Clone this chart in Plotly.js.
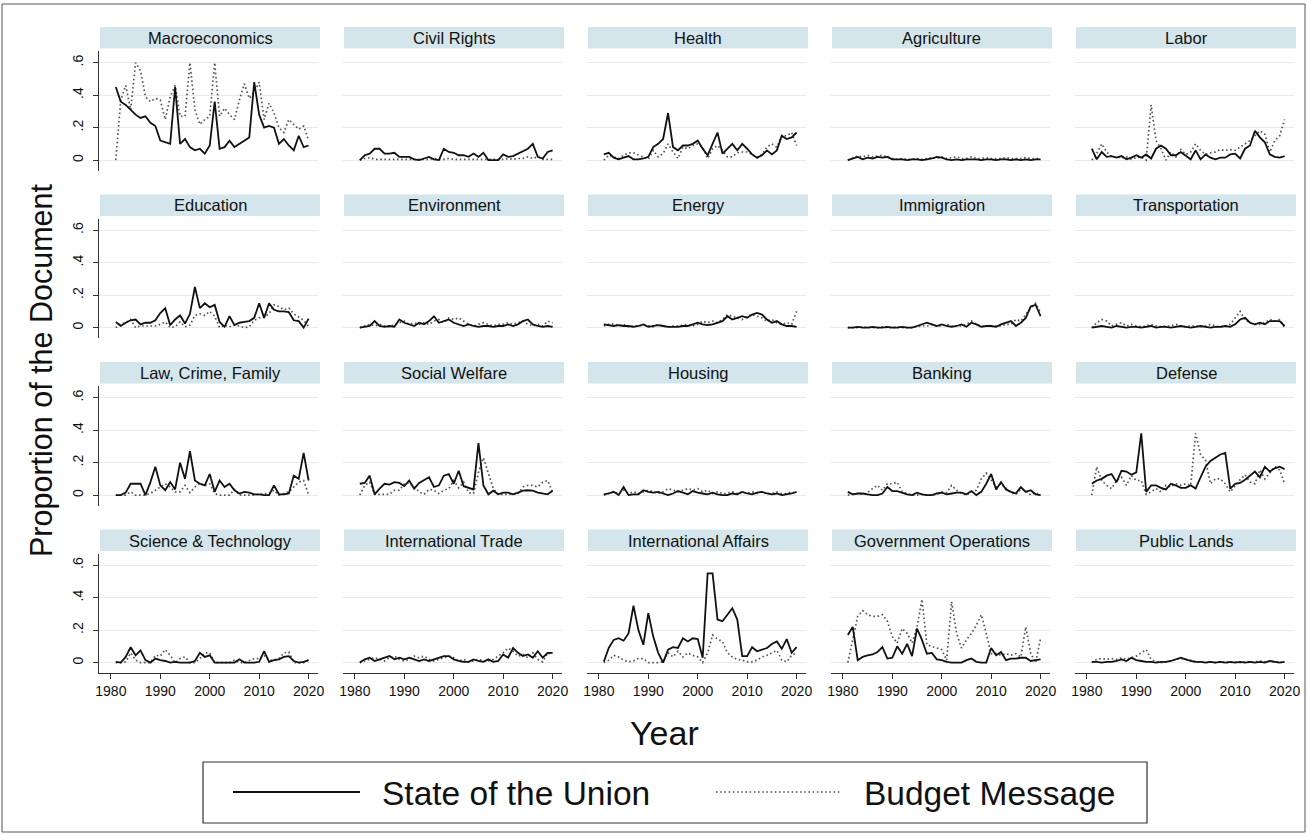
<!DOCTYPE html>
<html><head><meta charset="utf-8">
<script src="https://cdn.plot.ly/plotly-3.0.1.min.js"></script>
<style>html,body{margin:0;padding:0;background:#fff}#chart{width:1307px;height:835px}</style>
</head><body><div id="chart"></div>
<script>
const years = [1981,1982,1983,1984,1985,1986,1987,1988,1989,1990,1991,1992,1993,1994,1995,1996,1997,1998,1999,2000,2001,2002,2003,2004,2005,2006,2007,2008,2009,2010,2011,2012,2013,2014,2015,2016,2017,2018,2019,2020];
const topics = ["Macroeconomics","Civil Rights","Health","Agriculture","Labor","Education","Environment","Energy","Immigration","Transportation","Law, Crime, Family","Social Welfare","Housing","Banking","Defense","Science & Technology","International Trade","International Affairs","Government Operations","Public Lands"];
const xTicks = [1980,1990,2000,2010,2020];
const yTicks = [0,0.2,0.4,0.6];
const yTickText = ["0",".2",".4",".6"];

const macroSOU = [.45,.36,.34,.31,.28,.26,.27,.23,.21,.12,.11,.10,.45,.10,.13,.08,.06,.07,.04,.09,.36,.07,.08,.12,.08,.10,.12,.14,.48,.28,.20,.21,.20,.10,.13,.09,.06,.15,.08,.09];
const macroBM = [0,.37,.46,.31,.60,.55,.39,.36,.38,.37,.25,.39,.46,.27,.27,.60,.31,.22,.25,.27,.60,.27,.32,.28,.25,.37,.47,.38,.42,.48,.25,.35,.29,.20,.17,.25,.22,.19,.21,.12];
const civilSOU = [0,.03,.04,.07,.07,.04,.04,.045,.02,.02,.02,.005,0,.01,.02,.005,0,.07,.05,.045,.03,.03,.02,.04,.02,.045,0,0,0,.035,.02,.025,.04,.05,.07,.10,.02,.01,.05,.06];
const civilBM = [0,.01,.015,.005,.005,.005,.005,.005,.005,.005,.005,.005,.005,.005,.005,.01,.005,.005,.01,.005,.005,.005,.005,.005,.005,.005,.005,.005,.005,.005,.01,.005,.01,.01,.02,.01,.02,.005,.005,.005];
const healthSOU = [.035,.045,.015,.005,.015,.025,.005,.005,.01,.02,.08,.10,.13,.29,.08,.06,.09,.09,.10,.12,.07,.03,.10,.17,.04,.07,.10,.06,.10,.07,.035,.015,.03,.06,.035,.06,.15,.13,.14,.17];
const healthBM = [0,.03,.02,.01,.03,.045,.045,.03,.02,.005,.06,.02,.04,.10,.05,.01,.08,.07,.09,.10,.08,.01,.07,.09,.06,.02,.02,.045,.05,.05,.035,.015,.035,.08,.10,.08,.15,.15,.17,.09];
const agriSOU = [0,.01,.02,.005,.015,.01,.02,.015,.02,.005,.005,.005,0,.005,.005,0,.005,.01,.02,.015,.005,0,.005,0,.005,.005,.005,0,.005,.005,0,.005,.005,0,.005,0,.005,0,.005,.005];
const agriBM = [0,.015,.025,.02,.03,.02,.025,.03,.02,.01,.005,.01,.005,.005,.01,.005,.01,.015,.01,.02,.01,.015,.02,.01,.01,.02,.01,.01,.015,.01,.01,.01,.015,.01,.01,.01,.015,.01,.01,.01];
const laborSOU = [.07,.005,.05,.02,.025,.015,.025,.005,.015,.03,.015,.035,.01,.07,.09,.07,.03,.03,.05,.03,.005,.06,.005,.035,.015,.005,.015,.015,.035,.04,.01,.07,.09,.18,.14,.11,.035,.02,.015,.025];
const laborBM = [0,.04,.10,.05,.02,.02,.015,.02,.005,.015,.02,0,.34,.12,.07,0,.05,.02,.065,.035,.05,.10,.06,.035,.045,.05,.065,.06,.065,.06,.08,.10,.12,.15,.18,.16,.05,.12,.15,.25];
const eduSOU = [.035,.01,.03,.045,.05,.02,.03,.03,.045,.09,.12,.015,.05,.075,.025,.085,.25,.12,.15,.125,.14,.035,.005,.07,.015,.03,.035,.04,.06,.15,.06,.15,.11,.10,.10,.095,.045,.04,.0,.055];
const eduBM = [0,.025,.03,.05,0,.01,.01,.01,.01,.02,.035,0,.005,.035,.005,.015,.075,.085,.075,.10,.07,0,.015,.005,.015,.01,0,.005,.045,.06,.065,.085,.14,.13,.11,.12,.085,.065,.045,.005];
const envSOU = [0,.005,.01,.04,.01,.005,.01,.005,.05,.03,.02,.01,.03,.02,.04,.07,.03,.04,.05,.03,.02,.01,.02,.01,.005,.01,.01,.005,.01,.01,.02,.01,.02,.04,.05,.02,.01,.005,.01,.005];
const envBM = [0,.01,.02,.01,.02,.01,.005,.02,.03,.04,.02,.03,.02,.03,.02,.04,.05,.03,.06,.05,.06,.04,.02,.01,.02,.03,.02,.01,.02,.02,.03,.02,.03,.04,.02,.01,.02,.01,.04,.03];
const energySOU = [.02,.015,.01,.015,.01,.01,.005,.01,.02,.005,.01,.015,.01,.005,.005,.005,.01,.01,.02,.03,.02,.015,.02,.03,.04,.07,.05,.06,.07,.06,.08,.09,.08,.05,.03,.04,.02,.01,.01,.005];
const energyBM = [.01,.02,.025,.01,.02,.005,.01,.01,.015,.01,.005,.02,.01,.005,.01,.01,.015,.02,.01,.02,.04,.03,.04,.03,.05,.08,.07,.06,.05,.07,.08,.07,.06,.04,.05,.03,.02,.03,.02,.10];
const immSOU = [0,0,.005,0,0,.005,0,0,.005,0,0,.005,0,0,.01,.02,.03,.02,.01,.02,.01,.005,.01,.02,.005,.03,.02,.005,.01,.01,.005,.02,.03,.04,.01,.03,.06,.13,.14,.07];
const immBM = [0,0,0,.005,0,0,0,.005,0,0,.005,0,0,0,.005,.01,.01,.02,.01,.01,.02,.01,.01,.01,.02,.04,.02,.01,.01,.01,.01,.01,.02,.02,.05,.04,.08,.12,.15,.09];
const transSOU = [0,.005,.01,.005,0,.01,.005,0,.005,.005,0,.005,.01,0,.005,.005,0,.005,.01,.005,0,.005,.01,.005,0,.005,.005,.01,.005,.02,.05,.06,.03,.02,.03,.02,.04,.04,.04,.01];
const transBM = [0,.03,.05,.04,.01,.02,.03,.01,.02,.01,.005,.01,.02,.01,.005,.01,.01,.02,.01,.005,.01,.01,.005,.01,.02,.01,.005,.01,.02,.06,.10,.05,.03,.02,.02,.03,.05,.04,.05,0];
const lawSOU = [0,0,.015,.07,.07,.07,0,.08,.175,.06,.03,.08,.035,.20,.10,.27,.09,.07,.06,.13,.02,.09,.05,.07,.03,.01,.02,.015,.005,.005,0,0,.06,.005,.005,.01,.12,.10,.26,.09];
const lawBM = [0,0,0,.02,0,0,0,.01,.03,.05,.07,.05,.02,.02,.06,.015,.05,.075,.06,.07,.01,0,0,0,.035,0,0,0,0,.005,.01,.01,.03,0,.01,.02,.05,.08,.09,0];
const welfSOU = [.07,.075,.12,.005,.04,.07,.065,.08,.075,.055,.09,.04,.075,.09,.11,.05,.06,.12,.13,.07,.15,.055,.045,.035,.32,.06,.005,.027,.005,.015,.015,.005,.015,.027,.03,.027,.015,.01,.005,.027];
const welfBM = [0,.06,.08,.005,.005,.005,.005,.03,.03,.07,.075,.05,.02,.005,.035,.03,.01,.03,.04,.09,.045,.08,.015,.01,.14,.23,.13,.04,.005,.005,.005,.005,.01,.05,.06,.06,.05,.08,.09,.02];
const housSOU = [.005,.01,.02,0,.05,0,.005,.005,.03,.02,.015,.02,.01,0,.01,.025,.015,.005,.025,.015,.01,.005,.015,.005,0,0,.01,.005,.02,.01,.005,.015,.02,.01,.005,.01,0,.005,.01,.02];
const housBM = [0,.01,.02,.01,.03,.01,.02,.01,.02,.03,.02,.01,.02,.04,.03,.02,.03,.04,.03,.04,.02,.03,.01,.02,.01,.01,.02,.01,.02,.01,.02,.01,.02,.01,.01,.02,.01,.01,.02,.01];
const bankSOU = [.02,.005,.01,.01,.005,0,0,.01,.05,.025,.025,.015,.005,0,.015,.005,0,0,.01,.015,.005,.01,.015,.015,.005,.025,0,.02,.07,.13,.035,.08,.035,.02,.01,.05,.02,.03,.005,0];
const bankBM = [0,.005,.01,.005,.015,.04,.06,.03,.07,.07,.08,.02,.01,0,0,.005,0,0,.005,.02,.015,.06,.03,.01,0,.02,.03,.10,.135,.09,.05,.07,.04,.015,.005,.035,.03,0,.015,0];
const defSOU = [.07,.09,.10,.12,.13,.08,.15,.145,.125,.14,.38,.02,.06,.06,.045,.035,.07,.06,.045,.045,.06,.04,.11,.175,.21,.23,.25,.26,.04,.07,.075,.095,.12,.145,.11,.175,.145,.165,.175,.16];
const defBM = [0,.175,.09,.06,.04,.09,.11,.06,.12,.09,.09,.005,.02,.04,.02,.06,.05,.07,.06,.07,.06,.38,.25,.215,.07,.10,.10,.07,.02,.06,.095,.125,.08,.07,.155,.10,.135,.175,.155,.07];
const sciSOU = [.005,0,.035,.095,.045,.075,.015,0,.025,.015,.01,0,.005,0,0,0,.01,.06,.035,.045,0,0,0,0,0,.02,0,0,0,.005,.07,.005,.015,.02,.035,.04,.01,0,.005,.015];
const sciBM = [0,0,.005,.06,.015,0,0,0,.045,.04,.08,.045,0,.025,.035,0,0,.025,.06,.06,0,0,0,0,.015,0,0,.015,.025,.025,.045,.015,.015,.025,.06,.065,0,0,0,.015];
const tradeSOU = [0,.02,.03,.01,.02,.03,.04,.02,.03,.02,.03,.02,.01,.02,.01,.02,.03,.04,.04,.02,.01,.005,.005,.02,.01,.005,.02,.005,.01,.05,.03,.09,.06,.04,.05,.03,.07,.03,.06,.06];
const tradeBM = [0,.01,.02,.03,.02,.01,.03,.04,.02,.01,.02,.04,.03,.04,.02,.01,.02,.03,.04,.03,.01,.02,.005,.01,.02,.01,.01,.02,.04,.06,.09,.07,.04,.05,.03,.06,.02,.005,.06,.05];
const intlSOU = [.005,.09,.14,.15,.135,.18,.35,.20,.11,.305,.16,.06,0,.08,.095,.09,.15,.13,.15,.145,.03,.55,.55,.265,.255,.295,.335,.265,.04,.04,.095,.07,.08,.09,.115,.13,.085,.145,.06,.095];
const intlBM = [0,.015,.045,.035,.015,.005,.01,.025,.025,0,0,0,.005,.06,.035,.07,.035,.06,.045,.035,0,.06,.17,.145,.13,.06,.035,.02,.015,.005,.005,.015,.035,.045,.06,.075,.015,.005,.045,.06];
const govSOU = [.17,.22,.015,.035,.045,.05,.065,.095,.025,.03,.10,.055,.115,.04,.21,.14,.055,.06,.02,.015,.005,0,0,0,.015,.025,.005,0,0,.09,.045,.065,.015,.025,.025,.03,.03,.01,.015,.02];
const govBM = [0,.14,.285,.32,.295,.285,.285,.295,.255,.16,.12,.21,.18,.12,.22,.39,.11,.10,.09,.08,.015,.375,.18,.09,.14,.18,.23,.295,.18,.055,.055,.045,.055,.045,.055,.035,.22,.055,0,.15];
const landSOU = [.005,.005,0,.005,.005,.01,.02,.01,.03,.015,.01,.005,.005,0,.005,.005,.01,.02,.03,.02,.01,.005,.005,0,.005,0,.005,0,.005,0,.005,0,.005,0,.005,0,.01,.005,0,.005];
const landBM = [0,.02,.025,.02,.025,.02,.03,.02,.03,.04,.06,.08,.02,.005,0,.005,.01,.02,.025,.02,.015,.005,.005,0,.005,0,.005,0,0,.005,0,.005,0,.005,.01,.005,.01,.005,.005,0];

const souSeries = [macroSOU,civilSOU,healthSOU,agriSOU,laborSOU,eduSOU,envSOU,energySOU,immSOU,transSOU,lawSOU,welfSOU,housSOU,bankSOU,defSOU,sciSOU,tradeSOU,intlSOU,govSOU,landSOU];
const bmSeries = [macroBM,civilBM,healthBM,agriBM,laborBM,eduBM,envBM,energyBM,immBM,transBM,lawBM,welfBM,housBM,bankBM,defBM,sciBM,tradeBM,intlBM,govBM,landBM];

const W = 1307, H = 835;
const FONT = "Liberation Sans, Arial, Helvetica, sans-serif";
const px = v => v / W, py = v => 1 - v / H;
const DOT = "1.6px,2.6px";

const traces = [];
const layout = {
  width: W, height: H, margin: {l:0, r:0, t:0, b:0},
  paper_bgcolor: "#fff", plot_bgcolor: "#fff",
  font: {family: FONT, color: "#111"},
  showlegend: false, shapes: [], annotations: []
};

for (let i = 0; i < topics.length; i++) {
  const r = Math.floor(i / 5), c = i % 5;
  const sfx = i === 0 ? "" : String(i + 1);
  const x0 = 99 + 244 * c, x1 = 318 + 244 * c;
  const y0 = 51 + 167.5 * r, y1 = 170.5 + 167.5 * r;
  traces.push({x: years, y: bmSeries[i], type: "scatter", mode: "lines", xaxis: "x" + sfx, yaxis: "y" + sfx,
    line: {color: "#555", width: 1.7, dash: DOT}, name: "Budget Message", hoverinfo: "skip"});
  traces.push({x: years, y: souSeries[i], type: "scatter", mode: "lines", xaxis: "x" + sfx, yaxis: "y" + sfx,
    line: {color: "#111", width: 1.8}, name: "State of the Union", hoverinfo: "skip"});
  const bottom = r === 3, left = c === 0;
  layout["xaxis" + sfx] = {
    domain: [px(x0), px(x1)], anchor: "y" + sfx, range: [1977.6, 2021.9],
    showgrid: false, zeroline: false, tickvals: xTicks,
    showticklabels: bottom, showline: bottom, ticks: bottom ? "outside" : "",
    ticklen: 5, tickwidth: 1, tickcolor: "#333", linecolor: "#333", linewidth: 1,
    tickfont: {size: 14, family: FONT, color: "#111"}, fixedrange: true
  };
  layout["yaxis" + sfx] = {
    domain: [py(y1), py(y0)], anchor: "x" + sfx, range: [-0.064, 0.672],
    tickvals: yTicks, ticktext: yTickText,
    showgrid: true, gridcolor: "#e9e9e9", gridwidth: 1, zeroline: false,
    showticklabels: left, showline: left, ticks: left ? "outside" : "",
    ticklen: 5, tickwidth: 1, tickcolor: "#333", linecolor: "#333", linewidth: 1,
    tickangle: -90, ticklabelstandoff: 4,
    tickfont: {size: 14, family: FONT, color: "#111"}, fixedrange: true
  };
  layout.shapes.push({type: "rect", xref: "paper", yref: "paper",
    x0: px(x0 + 1), x1: px(x1 + 2), y0: py(48.5 + 167.5 * r), y1: py(27 + 167.5 * r),
    fillcolor: "#d4e6eb", line: {width: 0}, layer: "below"});
  layout.annotations.push({xref: "paper", yref: "paper", x: px((x0 + x1) / 2 + 1.5), y: py(38 + 167.5 * r),
    text: topics[i], showarrow: false, xanchor: "center", yanchor: "middle",
    font: {size: 16.5, family: FONT, color: "#111"}});
}

// axis titles
layout.annotations.push({xref: "paper", yref: "paper", x: px(42), y: py(370), text: "Proportion of the Document",
  textangle: -90, showarrow: false, xanchor: "center", yanchor: "middle", font: {size: 30.5, family: FONT, color: "#111"}});
layout.annotations.push({xref: "paper", yref: "paper", x: px(664), y: py(733), text: "Year",
  showarrow: false, xanchor: "center", yanchor: "middle", font: {size: 34, family: FONT, color: "#111"}});

// legend box
layout.shapes.push({type: "rect", xref: "paper", yref: "paper", x0: px(203), x1: px(1147), y0: py(823), y1: py(762),
  line: {color: "#333", width: 1.2}, fillcolor: "rgba(0,0,0,0)"});
layout.shapes.push({type: "line", xref: "paper", yref: "paper", x0: px(233), x1: px(360), y0: py(792), y1: py(792),
  line: {color: "#111", width: 2}});
layout.shapes.push({type: "line", xref: "paper", yref: "paper", x0: px(716), x1: px(840), y0: py(792), y1: py(792),
  line: {color: "#555", width: 1.7, dash: DOT}});
layout.annotations.push({xref: "paper", yref: "paper", x: px(380), y: py(793), text: "State of the Union",
  showarrow: false, xanchor: "left", yanchor: "middle", font: {size: 33.5, family: FONT, color: "#111"}});
layout.annotations.push({xref: "paper", yref: "paper", x: px(862), y: py(793), text: "Budget Message",
  showarrow: false, xanchor: "left", yanchor: "middle", font: {size: 33.5, family: FONT, color: "#111"}});

// outer frame
layout.shapes.push({type: "rect", xref: "paper", yref: "paper", x0: px(2), x1: px(1305), y0: py(832), y1: py(4),
  line: {color: "#555", width: 1}, fillcolor: "rgba(0,0,0,0)"});

Plotly.newPlot("chart", traces, layout, {displayModeBar: false, staticPlot: true});
</script>
</body></html>
